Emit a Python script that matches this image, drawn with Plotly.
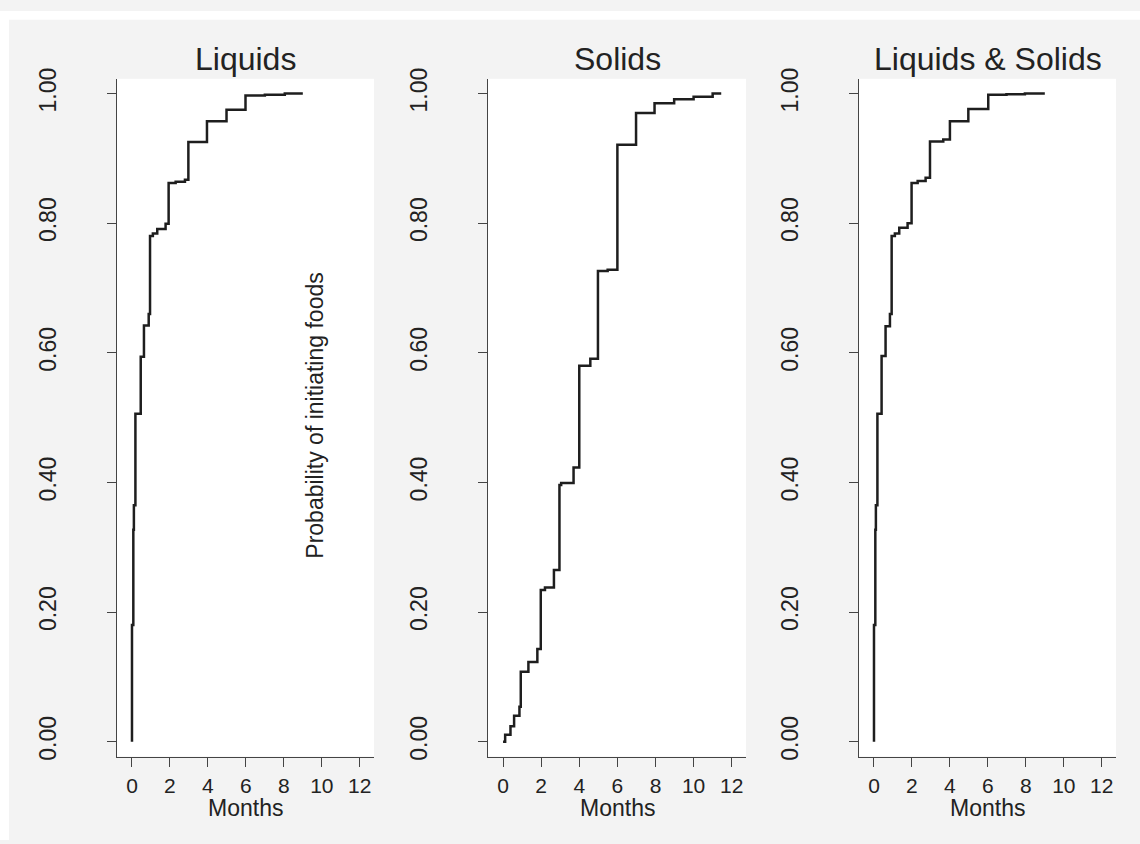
import plotly.graph_objects as go

# ---- data (months, cumulative probability) ----
liq_months = [0.0, 0.0, 0.07, 0.10, 0.18, 0.46, 0.63, 0.88, 0.95, 1.10, 1.33, 1.77, 1.93, 2.30, 2.79, 2.97, 3.95, 4.98, 5.98, 7.00, 8.05, 9.00]
liq_prob = [0.0, 0.18, 0.327, 0.365, 0.506, 0.594, 0.642, 0.660, 0.780, 0.784, 0.791, 0.799, 0.862, 0.864, 0.867, 0.925, 0.957, 0.975, 0.997, 0.998, 1.0, 1.0]

sol_months = [0.0, 0.11, 0.39, 0.58, 0.86, 0.93, 1.33, 1.80, 1.98, 2.20, 2.67, 2.96, 3.05, 3.70, 4.00, 4.58, 4.98, 5.49, 6.00, 6.98, 7.95, 8.98, 10.0, 11.0, 11.45]
sol_prob = [0.0, 0.011, 0.024, 0.040, 0.054, 0.108, 0.123, 0.143, 0.234, 0.238, 0.265, 0.396, 0.399, 0.423, 0.580, 0.591, 0.726, 0.728, 0.921, 0.970, 0.985, 0.991, 0.995, 1.0, 1.0]

both_months = [0.0, 0.0, 0.07, 0.10, 0.18, 0.40, 0.61, 0.84, 0.93, 1.10, 1.33, 1.77, 1.98, 2.30, 2.72, 2.95, 3.65, 4.00, 4.97, 6.02, 6.98, 7.95, 9.00]
both_prob = [0.0, 0.18, 0.327, 0.365, 0.506, 0.595, 0.641, 0.660, 0.780, 0.784, 0.793, 0.800, 0.862, 0.865, 0.870, 0.926, 0.929, 0.957, 0.976, 0.998, 0.999, 1.0, 1.0]

panel_titles = ["Liquids", "Solids", "Liquids & Solids"]
x_ticks = [0, 2, 4, 6, 8, 10, 12]
y_ticks = [0.0, 0.2, 0.4, 0.6, 0.8, 1.0]
x_title = "Months"
y_title = "Probability of initiating foods"

W, H = 1140, 844
FONT = "Liberation Sans, Arial, sans-serif"
TXT = "#222222"
series = [(liq_months, liq_prob), (sol_months, sol_prob), (both_months, both_prob)]
panels_px = [(117, 374), (488, 746), (859, 1116)]
top_px, bot_px = 69, 759

fig = go.Figure()
for i, (xs, ys) in enumerate(series):
    suffix = "" if i == 0 else str(i + 1)
    fig.add_trace(go.Scatter(
        x=xs, y=ys, mode="lines", line=dict(shape="hv", color="#1e1e1e", width=2.5),
        xaxis="x" + suffix, yaxis="y" + suffix, showlegend=False, hoverinfo="x+y"))

layout = dict(
    autosize=True,
    margin=dict(l=0, r=0, t=0, b=0, pad=0),
    paper_bgcolor="#f3f3f3", plot_bgcolor="white",
    font=dict(family=FONT, color=TXT),
    showlegend=False,
)
annotations = []
for i, (l, r) in enumerate(panels_px):
    suffix = "" if i == 0 else str(i + 1)
    dom_x = [l / W, r / W]
    dom_y = [1 - bot_px / H, 1 - top_px / H]
    layout["xaxis" + suffix] = dict(
        domain=dom_x, range=[-0.79, 12.75], anchor="y" + suffix,
        tickvals=x_ticks, ticks="outside", ticklen=9, tickwidth=1.3, tickcolor="#444",
        showline=True, linecolor="#444", linewidth=1.3, showgrid=False, zeroline=False,
        tickfont=dict(size=21, color=TXT, family=FONT), ticklabelstandoff=1,
    )
    layout["yaxis" + suffix] = dict(
        domain=dom_y, range=[-0.0227, 1.0227], anchor="x" + suffix,
        tickvals=y_ticks, tickformat=".2f", ticks="outside", ticklen=9, tickwidth=1.3,
        tickcolor="#444", tickangle=-90,
        showline=True, linecolor="#444", linewidth=1.3, showgrid=False, zeroline=False,
        tickfont=dict(size=23, color=TXT, family=FONT), ticklabelstandoff=42,
    )
    cx = (l + r) / 2 / W
    annotations.append(dict(text=panel_titles[i], x=cx, y=1 - 49 / H, xref="paper", yref="paper",
                            showarrow=False, xanchor="center", yanchor="middle",
                            font=dict(size=32, color=TXT, family=FONT)))
    annotations.append(dict(text=x_title, x=cx, y=1 - 811 / H, xref="paper", yref="paper",
                            showarrow=False, xanchor="center", yanchor="middle",
                            font=dict(size=23, color=TXT, family=FONT)))

annotations.append(dict(text=y_title, x=315 / W, y=1 - 412 / H, xref="paper", yref="paper",
                        showarrow=False, xanchor="center", yanchor="middle", textangle=-90,
                        font=dict(size=23, color=TXT, family=FONT)))
layout["annotations"] = annotations
layout["shapes"] = [
    dict(type="rect", xref="paper", yref="paper", x0=0, x1=1, y0=1 - 9 / H, y1=1,
         fillcolor="white", line=dict(width=0), layer="below"),
    dict(type="rect", xref="paper", yref="paper", x0=0, x1=9 / W, y0=0, y1=1,
         fillcolor="white", line=dict(width=0), layer="below"),
]
fig.update_layout(**layout)
post = ("document.documentElement.style.margin='0px';"
        "document.body.style.margin='0px';document.body.style.overflow='hidden';"
        "var gd=document.getElementById('{plot_id}');"
        "gd.style.width='100vw';gd.style.height='100vh';"
        "Plotly.Plots.resize(gd);")
fig.write_html("out.html", config={"displayModeBar": False, "responsive": True},
               default_width="100vw", default_height="100vh", post_script=post)
